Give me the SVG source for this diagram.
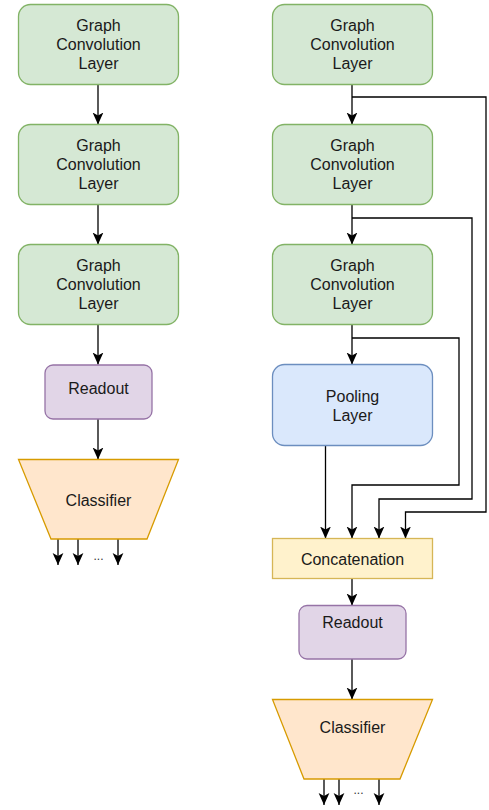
<svg xmlns="http://www.w3.org/2000/svg" width="489" height="810" viewBox="0 0 489 810">
<style>
.t{font-family:"Liberation Sans",Arial,sans-serif;font-size:16px;fill:#1a1a1a;text-anchor:middle}
.s{font-family:"Liberation Sans",Arial,sans-serif;font-size:12px;fill:#333;text-anchor:middle}
.gcl{fill:#d5e8d4;stroke:#82b366;stroke-width:1.3}
.ro{fill:#e1d5e7;stroke:#9673a6;stroke-width:1.3}
.pl{fill:#dae8fc;stroke:#6c8ebf;stroke-width:1.3}
.cc{fill:#fff2cc;stroke:#d6b656;stroke-width:1.3}
.cl{fill:#ffe6cc;stroke:#d79b00;stroke-width:1.3}
.e{fill:none;stroke:#000;stroke-width:1.3;marker-end:url(#a)}
</style>
<defs>
<marker id="a" markerUnits="userSpaceOnUse" markerWidth="12" markerHeight="12" viewBox="0 0 10 10" refX="10" refY="5" orient="auto">
<path d="M0,0.5 L10,5 L0,9.5 L2.5,5 z" fill="#000"/>
</marker>
</defs>
<g id="connectors">
<path class="e" d="M98,84.5 V124.5"/>
<path class="e" d="M98,204.5 V244.5"/>
<path class="e" d="M98,324.5 V364.5"/>
<path class="e" d="M98,419 V459.5"/>
<path class="e" d="M58,539 V565"/>
<path class="e" d="M78,539 V565"/>
<path class="e" d="M118,539 V565"/>
<path class="e" d="M352,84.5 V124.5"/>
<path class="e" d="M352,204.5 V244.5"/>
<path class="e" d="M352,324.5 V364.5"/>
<path class="e" d="M325.5,445.5 V538.5"/>
<path class="e" d="M352,97 H486 V512 H405.5 V538.5"/>
<path class="e" d="M352,218 H472 V499 H379 V538.5"/>
<path class="e" d="M352,338 H459 V485 H352 V538.5"/>
<path class="e" d="M352,578.5 V605.5"/>
<path class="e" d="M352,659 V699.5"/>
<path class="e" d="M324,779 V805"/>
<path class="e" d="M339,779 V805"/>
<path class="e" d="M379,779 V805"/>
</g>
<g id="l_gcl1"><rect class="gcl" x="18.5" y="4.5" width="160" height="80" rx="12"/><text class="t" x="98.5" y="30.8">Graph</text><text class="t" x="98.5" y="50">Convolution</text><text class="t" x="98.5" y="69.2">Layer</text></g>
<g id="l_gcl2"><rect class="gcl" x="18.5" y="124.5" width="160" height="80" rx="12"/><text class="t" x="98.5" y="150.8">Graph</text><text class="t" x="98.5" y="170">Convolution</text><text class="t" x="98.5" y="189.2">Layer</text></g>
<g id="l_gcl3"><rect class="gcl" x="18.5" y="244.5" width="160" height="80" rx="12"/><text class="t" x="98.5" y="270.8">Graph</text><text class="t" x="98.5" y="290">Convolution</text><text class="t" x="98.5" y="309.2">Layer</text></g>
<g id="l_readout"><rect class="ro" x="45" y="365" width="107" height="54" rx="8"/><text class="t" x="98.5" y="393.5">Readout</text></g>
<g id="l_classifier"><polygon class="cl" points="18.5,459.5 178.5,459.5 147,539 51,539"/><text class="t" x="98.5" y="505.5">Classifier</text><text class="s" x="98.5" y="560">...</text></g>
<g id="r_gcl1"><rect class="gcl" x="272.5" y="4.5" width="160" height="80" rx="12"/><text class="t" x="352.5" y="30.8">Graph</text><text class="t" x="352.5" y="50">Convolution</text><text class="t" x="352.5" y="69.2">Layer</text></g>
<g id="r_gcl2"><rect class="gcl" x="272.5" y="124.5" width="160" height="80" rx="12"/><text class="t" x="352.5" y="150.8">Graph</text><text class="t" x="352.5" y="170">Convolution</text><text class="t" x="352.5" y="189.2">Layer</text></g>
<g id="r_gcl3"><rect class="gcl" x="272.5" y="244.5" width="160" height="80" rx="12"/><text class="t" x="352.5" y="270.8">Graph</text><text class="t" x="352.5" y="290">Convolution</text><text class="t" x="352.5" y="309.2">Layer</text></g>
<g id="r_pooling"><rect class="pl" x="272.5" y="364.5" width="160" height="81" rx="12"/><text class="t" x="352.5" y="401.5">Pooling</text><text class="t" x="352.5" y="420.7">Layer</text></g>
<g id="r_concat"><rect class="cc" x="272.5" y="538.5" width="160" height="40"/><text class="t" x="352.5" y="564.5">Concatenation</text></g>
<g id="r_readout"><rect class="ro" x="299" y="605.5" width="107" height="53.5" rx="8"/><text class="t" x="352.5" y="627.5">Readout</text></g>
<g id="r_classifier"><polygon class="cl" points="272.5,699.5 432.5,699.5 400,779 304,779"/><text class="t" x="352.5" y="732.5">Classifier</text><text class="s" x="358.5" y="794">...</text></g>
</svg>
